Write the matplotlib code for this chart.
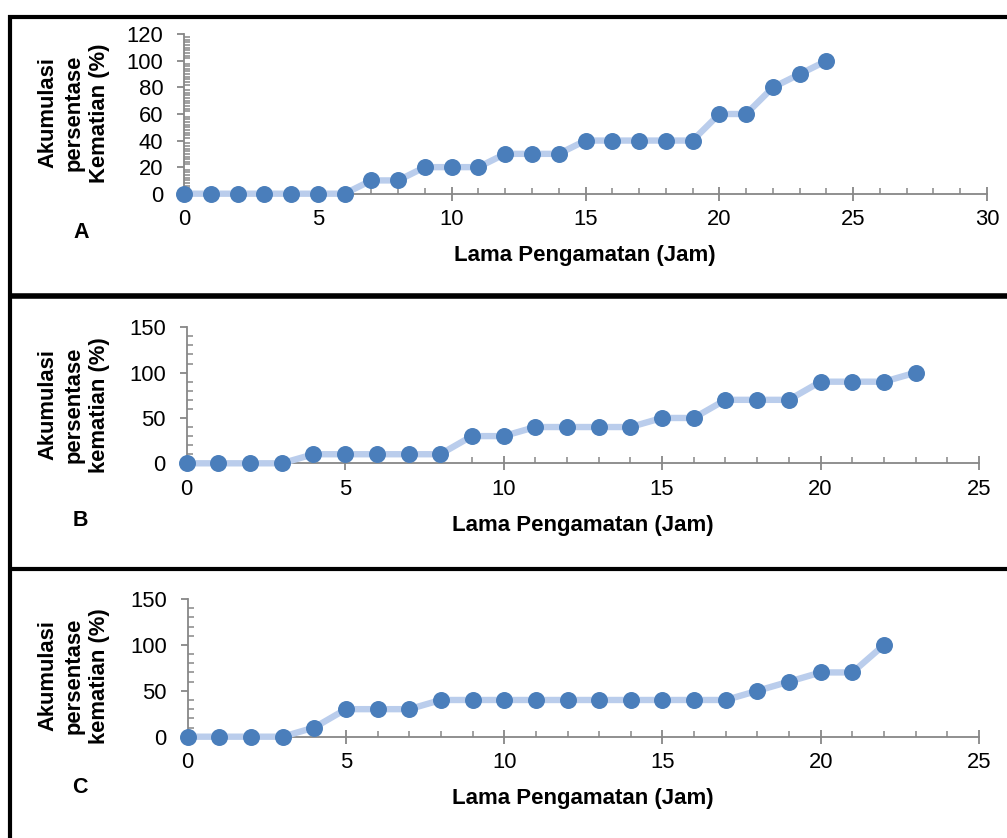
import numpy as np
import matplotlib
matplotlib.use("Agg")
import matplotlib.pyplot as plt
from matplotlib.lines import Line2D
from matplotlib.ticker import MultipleLocator

plt.rcParams['font.family'] = ['Liberation Sans', 'DejaVu Sans']

# jam pengamatan dan akumulasi kematian (%) untuk tiap perlakuan
jam_a = list(range(0, 25))
mati_a = [0, 0, 0, 0, 0, 0, 0, 10, 10, 20, 20, 20, 30, 30, 30,
          40, 40, 40, 40, 40, 60, 60, 80, 90, 100]

jam_b = list(range(0, 24))
mati_b = [0, 0, 0, 0, 10, 10, 10, 10, 10, 30, 30, 40, 40, 40, 40,
          50, 50, 70, 70, 70, 90, 90, 90, 100]

jam_c = list(range(0, 23))
mati_c = [0, 0, 0, 0, 10, 30, 30, 30, 40, 40, 40, 40, 40, 40, 40,
          40, 40, 40, 50, 60, 70, 70, 100]

panel_labels = ["A", "B", "C"]
ylabels = ["Akumulasi\npersentase\nKematian (%)",
           "Akumulasi\npersentase\nkematian (%)",
           "Akumulasi\npersentase\nkematian (%)"]
xlabel = "Lama Pengamatan (Jam)"

W, H = 1007, 838
fig = plt.figure(figsize=(W / 100, H / 100), dpi=100)


def px_axes(left, right, top, bottom):
    return fig.add_axes([left / W, 1 - bottom / H, (right - left) / W, (bottom - top) / H])


line_col = '#BACDEC'
dot_col = '#4A7EBB'
axis_col = '#878787'


def draw_panel(ax, x, y, xmax, ymax, ymajor, yminor):
    ax.plot(x, y, color=line_col, lw=4.6, zorder=3, clip_on=False,
            solid_joinstyle='round')
    ax.plot(x, y, 'o', color=dot_col, ms=11.2, zorder=4, clip_on=False)
    ax.set_xlim(0, xmax)
    ax.set_ylim(0, ymax)
    ax.xaxis.set_major_locator(MultipleLocator(5))
    ax.xaxis.set_minor_locator(MultipleLocator(1))
    ax.yaxis.set_major_locator(MultipleLocator(ymajor))
    ax.yaxis.set_minor_locator(MultipleLocator(yminor))
    for s in ['top', 'right']:
        ax.spines[s].set_visible(False)
    for s in ['left', 'bottom']:
        ax.spines[s].set_color(axis_col)
        ax.spines[s].set_linewidth(1.3)
    ax.tick_params(axis='x', which='major', direction='inout', length=10,
                   width=1.3, color=axis_col, labelsize=15.8, pad=6)
    ax.tick_params(axis='x', which='minor', direction='in', length=4,
                   width=1.1, color=axis_col)
    ax.tick_params(axis='y', which='major', direction='out', length=5,
                   width=1.3, color=axis_col, labelsize=15.8, pad=10)
    ax.tick_params(axis='y', which='minor', direction='in', length=4,
                   width=1.1, color=axis_col)
    ax.set_facecolor('none')


ax_a = px_axes(184, 987, 34.3, 193.7)
draw_panel(ax_a, jam_a, mati_a, 30, 120, 20, 2)
ax_b = px_axes(186.7, 979, 327.3, 463.3)
draw_panel(ax_b, jam_b, mati_b, 25, 150, 50, 10)
ax_c = px_axes(187.7, 979, 599, 736.7)
draw_panel(ax_c, jam_c, mati_c, 25, 150, 50, 10)

# judul sumbu dan huruf panel, posisi dalam piksel
ylab_pos = [(74, 113), (74, 405), (74, 676)]
xlab_pos = [(585, 255), (583, 525), (583, 798)]
letter_pos = [(81, 232), (80, 520), (80, 787)]
for i in range(3):
    fig.text(ylab_pos[i][0] / W, 1 - ylab_pos[i][1] / H, ylabels[i],
             rotation=90, ha='center', va='center', multialignment='center',
             fontsize=15.8, fontweight='bold', linespacing=1.3)
    fig.text(xlab_pos[i][0] / W, 1 - xlab_pos[i][1] / H, xlabel,
             ha='center', va='center', fontsize=16, fontweight='bold')
    fig.text(letter_pos[i][0] / W, 1 - letter_pos[i][1] / H, panel_labels[i],
             ha='center', va='center', fontsize=15.5, fontweight='bold')

# garis bingkai
def frame_line(x0, y0, x1, y1, lw):
    fig.add_artist(Line2D([x0 / W, x1 / W], [1 - y0 / H, 1 - y1 / H],
                          color='black', lw=lw, solid_capstyle='butt'))


frame_line(8, 17, 1007, 17, 3.0)
frame_line(10, 15.5, 10, 838, 3.0)
frame_line(8, 296.5, 1007, 296.5, 4.0)
frame_line(8, 569, 1007, 569, 3.0)

fig.savefig("out.png", dpi=100)
